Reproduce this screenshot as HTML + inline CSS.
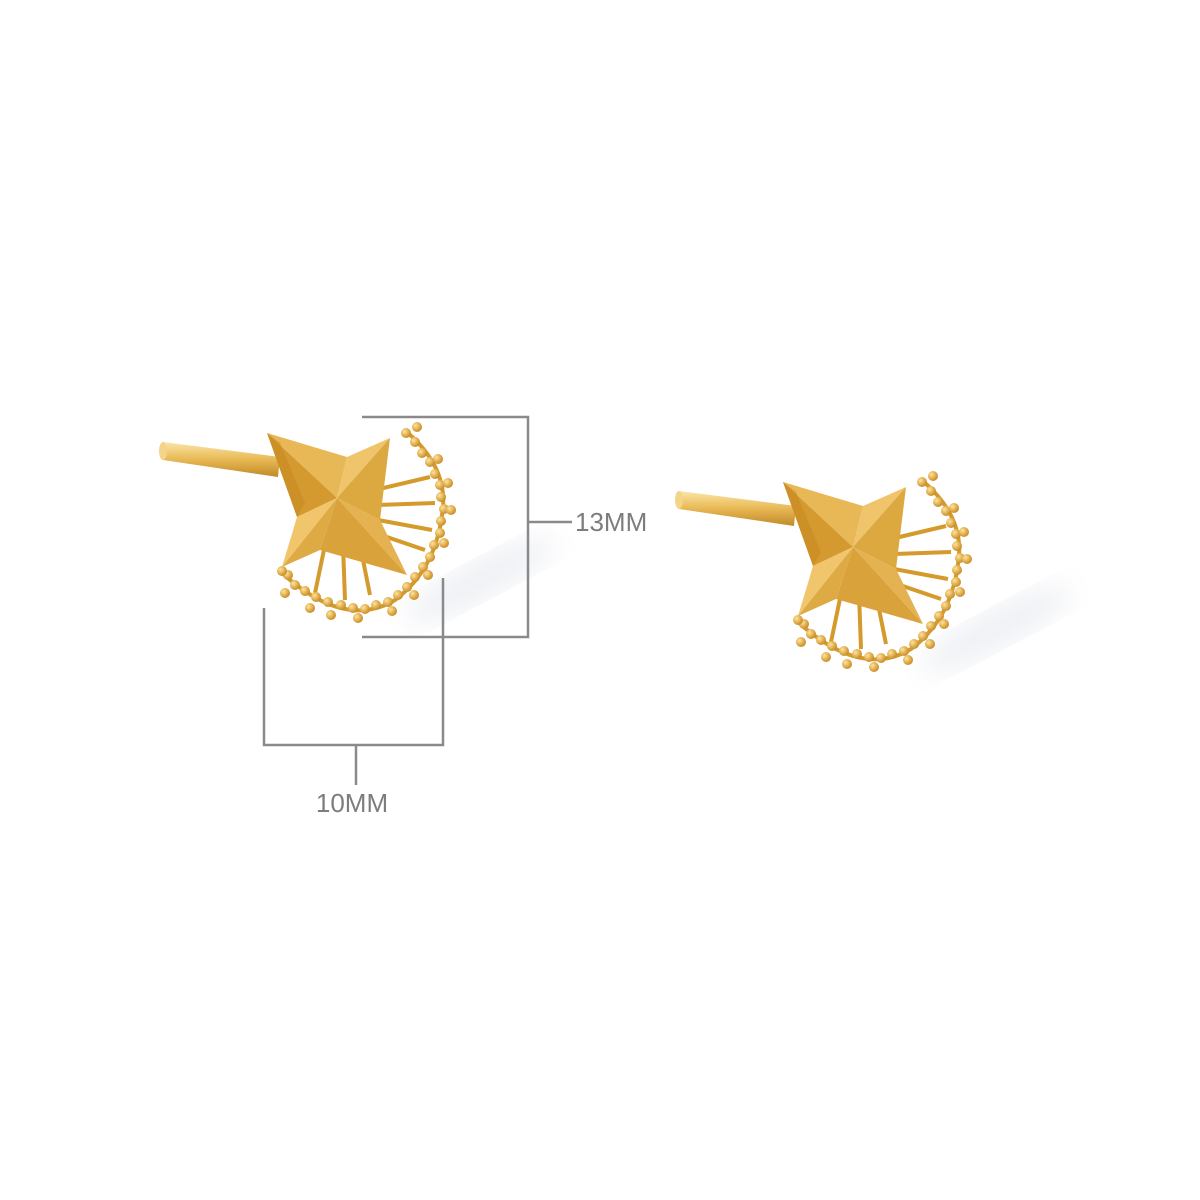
<!DOCTYPE html>
<html><head><meta charset="utf-8"><style>
html,body{margin:0;padding:0;background:#fff;}
svg{display:block}
text{font-family:"Liberation Sans",sans-serif;fill:#7d7d7d;font-size:26px}
</style></head><body>
<svg width="1200" height="1200" viewBox="0 0 1200 1200" xmlns="http://www.w3.org/2000/svg">
<defs>
<linearGradient id="post" x1="0" y1="0" x2="0" y2="1">
<stop offset="0" stop-color="#fbe6a8"/><stop offset="0.5" stop-color="#e8b854"/><stop offset="1" stop-color="#c08a28"/></linearGradient>
<radialGradient id="bead" cx="0.35" cy="0.35" r="0.7"><stop offset="0" stop-color="#ffe39a"/><stop offset="1" stop-color="#c7891e"/></radialGradient>
<filter id="blur"><feGaussianBlur stdDeviation="14"/></filter>
<g id="ear">
<ellipse cx="140" cy="75" rx="85" ry="18" fill="#dfe2ea" opacity="0.55" filter="url(#blur)" transform="rotate(-28 140 75)"/>
<path d="M-177 -63 L-60 -48 L-62 -28 L-177 -45 Z" fill="url(#post)"/>
<ellipse cx="-177" cy="-54" rx="4" ry="9" fill="#f3d488"/>
<g stroke="#d49a2c" stroke-width="4" fill="none">
<line x1="35" y1="-15" x2="90" y2="-28"/><line x1="38" y1="0" x2="95" y2="-2"/><line x1="38" y1="15" x2="92" y2="25"/><line x1="35" y1="28" x2="85" y2="45"/>
<line x1="-15" y1="40" x2="-25" y2="88"/><line x1="3" y1="40" x2="5" y2="95"/><line x1="20" y1="40" x2="30" y2="90"/>
</g>
<path d="M68 -72 Q110 -35 102 10 Q95 65 55 95 Q5 125 -58 68" fill="none" stroke="#d49a2c" stroke-width="4"/>
<g fill="url(#bead)">
<circle cx="66" cy="-72" r="5"/><circle cx="77" cy="-78" r="5"/><circle cx="75" cy="-63" r="5"/><circle cx="82" cy="-52" r="5"/><circle cx="90" cy="-43" r="5"/><circle cx="98" cy="-46" r="5"/><circle cx="95" cy="-31" r="5"/><circle cx="100" cy="-20" r="5"/><circle cx="108" cy="-22" r="5"/><circle cx="101" cy="-8" r="5"/><circle cx="104" cy="4" r="5"/><circle cx="111" cy="5" r="5"/><circle cx="101" cy="16" r="5"/><circle cx="100" cy="28" r="5"/><circle cx="104" cy="38" r="5"/><circle cx="94" cy="40" r="5"/><circle cx="90" cy="52" r="5"/><circle cx="83" cy="62" r="5"/><circle cx="88" cy="70" r="5"/><circle cx="75" cy="72" r="5"/><circle cx="67" cy="82" r="5"/><circle cx="74" cy="90" r="5"/><circle cx="58" cy="90" r="5"/><circle cx="48" cy="97" r="5"/><circle cx="52" cy="106" r="5"/><circle cx="36" cy="100" r="5"/><circle cx="25" cy="104" r="5"/><circle cx="18" cy="113" r="5"/><circle cx="13" cy="103" r="5"/><circle cx="1" cy="100" r="5"/><circle cx="-9" cy="110" r="5"/><circle cx="-12" cy="97" r="5"/><circle cx="-24" cy="92" r="5"/><circle cx="-30" cy="103" r="5"/><circle cx="-35" cy="86" r="5"/><circle cx="-45" cy="80" r="5"/><circle cx="-55" cy="88" r="5"/><circle cx="-52" cy="70" r="5"/><circle cx="-58" cy="66" r="5"/>
</g>
<!-- star: UL(-73,-72) UR(50,-67) LR(67,70) LL(-58,62); inner T(7,-48) R(40,15) B(-20,45) L(-43,12); C(-3,-7) -->
<path d="M-73 -72 L7 -48 L-3 -7 Z" fill="#e9b856"/>
<path d="M-73 -72 L-43 12 L-3 -7 Z" fill="#d49a30"/>
<path d="M50 -67 L7 -48 L-3 -7 Z" fill="#efc46a"/>
<path d="M50 -67 L40 15 L-3 -7 Z" fill="#dca840"/>
<path d="M67 70 L40 15 L-3 -7 Z" fill="#e4b250"/>
<path d="M67 70 L-20 45 L-3 -7 Z" fill="#d9a23a"/>
<path d="M-58 62 L-20 45 L-3 -7 Z" fill="#deaa44"/>
<path d="M-58 62 L-43 12 L-3 -7 Z" fill="#f0c56c"/>
<path d="M-43 12 L-58 62 L-48 30 Z" fill="#f9dc94"/>
<path d="M-73 -72 L-60 -62 L-35 -2 L-43 12 Z" fill="#c88b20" opacity="0.6"/>
</g>
</defs>
<use href="#ear" x="340" y="505"/>
<use href="#ear" x="856" y="554"/>
<g stroke="#8a8a8a" stroke-width="2.5" fill="none">
<polyline points="362,417 528,417 528,637 362,637"/>
<line x1="528" y1="522" x2="572" y2="522"/>
<polyline points="264,608 264,745 443,745 443,578"/>
<line x1="356" y1="745" x2="356" y2="785"/>
</g>
<text x="575" y="531">13MM</text>
<text x="352" y="812" text-anchor="middle">10MM</text>
</svg>
</body></html>
